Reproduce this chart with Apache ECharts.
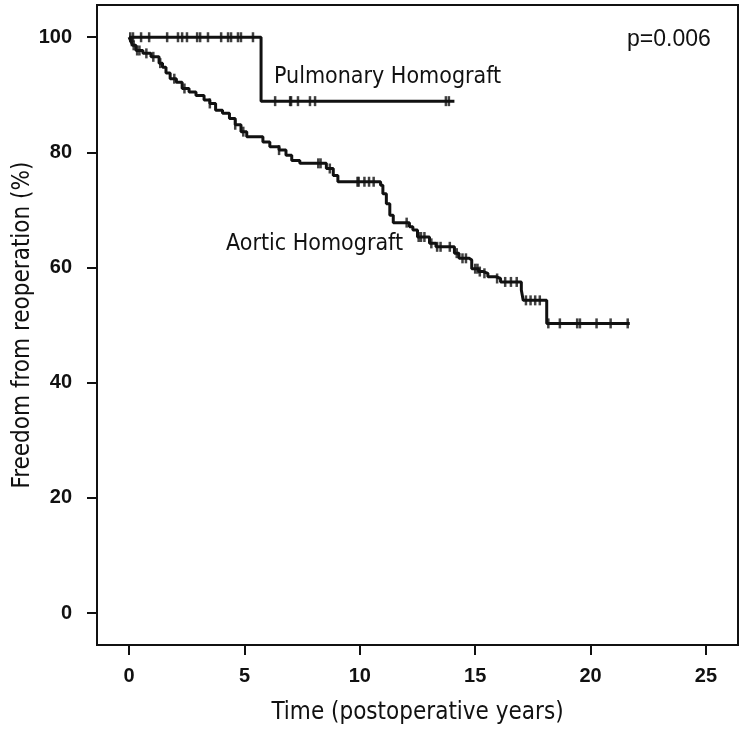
<!DOCTYPE html>
<html>
<head>
<meta charset="utf-8">
<script src="https://cdn.jsdelivr.net/npm/echarts@6/dist/echarts.min.js"></script>
<style>
  html, body { margin: 0; padding: 0; background: #fff; }
  #chart { width: 744px; height: 734px; }
</style>
</head>
<body>
<div id="chart"></div>
<script>
// Kaplan-Meier steps: time (years) and survival (%) after each drop
const aorticTimes = [0, 0.08, 0.15, 0.3, 0.6, 0.95, 1.3, 1.45, 1.6, 1.78, 2.05, 2.3, 2.6, 2.9, 3.25, 3.5, 3.75, 4.05, 4.35, 4.6, 4.85, 5.1, 5.8, 6.1, 6.5, 6.8, 7.05, 7.4, 8.55, 8.85, 9.05, 10.9, 11.0, 11.15, 11.3, 11.45, 12.15, 12.3, 12.5, 13.02, 13.3, 14.1, 14.3, 14.75, 14.85, 15.15, 15.35, 15.55, 15.9, 16.1, 17.0, 17.08, 18.1, 21.7]
const aorticSurv = [100, 99.3, 98.6, 97.7, 97.2, 96.6, 95.5, 94.8, 93.8, 92.8, 92.2, 91.1, 90.5, 89.9, 89.1, 88.5, 87.3, 86.8, 85.9, 84.8, 83.6, 82.7, 81.8, 81.0, 80.4, 79.5, 78.6, 78.1, 77.2, 76.0, 74.9, 74.3, 72.8, 71.1, 69.1, 67.8, 67.1, 66.5, 65.3, 64.2, 63.6, 62.5, 61.6, 61.3, 59.8, 59.3, 59.0, 58.4, 58.1, 57.5, 56.1, 54.3, 50.3, 50.3]
const aorticCensored = [0.05, 0.12, 0.2, 0.35, 0.45, 0.75, 1.05, 1.35, 1.96, 2.4, 3.5, 4.6, 4.95, 6.5, 8.2, 8.3, 8.7, 9.9, 9.95, 10.2, 10.4, 10.6, 12.03, 12.55, 12.65, 12.8, 13.1, 13.35, 13.5, 13.9, 14.2, 14.45, 14.6, 15.0, 15.1, 15.2, 15.4, 15.95, 16.3, 16.55, 16.8, 17.2, 17.4, 17.6, 17.8, 18.17, 18.67, 19.42, 19.54, 20.26, 20.87, 21.61]

const pulmTimes = [0, 5.72, 14.1]
const pulmSurv = [100, 88.9, 88.9]
const pulmCensored = [0.17, 0.52, 0.87, 1.65, 2.12, 2.3, 2.51, 2.95, 3.08, 3.42, 3.99, 4.29, 4.42, 4.72, 4.85, 5.37, 6.33, 6.98, 7.02, 7.32, 7.84, 8.06, 13.73, 13.86]

const xTicks = [0, 5, 10, 15, 20, 25]
const yTicks = [0, 20, 40, 60, 80, 100]

function survivalAt(times, surv, t) {
  let s = surv[0]
  for (let i = 0; i < times.length; i++) {
    if (times[i] <= t) s = surv[i]
  }
  return s
}

const zip = (a, b) => a.map((v, i) => [v, b[i]])
const censorPoints = (c, times, surv) => c.map(t => [t, survivalAt(times, surv, t)])

const chart = echarts.init(document.getElementById('chart'))
const ink = '#111'
const labelFont = '"Liberation Sans", Arial, sans-serif'
const nameFont = '"Liberation Sans Narrow", "DejaVu Sans Condensed", sans-serif'

chart.setOption({
  animation: false,
  backgroundColor: '#fff',
  grid: {
    left: 97, right: 6, top: 5, bottom: 89,
    containLabel: false,
    outerBoundsMode: 'none',
    show: true, borderColor: ink, borderWidth: 2, backgroundColor: 'transparent'
  },
  xAxis: {
    type: 'value',
    min: -1.39, max: 26.39,
    name: 'Time (postoperative years)',
    nameLocation: 'middle',
    nameGap: 56,
    nameMoveOverlap: false,
    nameTextStyle: { color: ink, fontSize: 24, fontFamily: nameFont },
    axisLine: { show: false, onZero: false },
    axisTick: { show: true, length: 10, lineStyle: { color: ink, width: 2 }, customValues: xTicks },
    axisLabel: { color: ink, fontSize: 20, fontWeight: 'bold', fontFamily: labelFont, margin: 21, customValues: xTicks },
    splitLine: { show: false }
  },
  yAxis: {
    type: 'value',
    min: -5.56, max: 105.6,
    name: 'Freedom from reoperation (%)',
    nameLocation: 'middle',
    nameGap: 62,
    nameMoveOverlap: false,
    nameTextStyle: { color: ink, fontSize: 24, fontFamily: nameFont },
    axisLine: { show: false, onZero: false },
    axisTick: { show: true, length: 10, lineStyle: { color: ink, width: 2 }, customValues: yTicks },
    axisLabel: { color: ink, fontSize: 20, fontWeight: 'bold', fontFamily: labelFont, margin: 25, customValues: yTicks },
    splitLine: { show: false }
  },
  graphic: [
    { type: 'text', left: 627, top: 28, style: { text: 'p=0.006', fontSize: 23, fontFamily: labelFont, fill: ink } },
    { type: 'text', left: 274, top: 66, style: { text: 'Pulmonary Homograft', fontSize: 23, fontFamily: nameFont, fill: ink } },
    { type: 'text', left: 226, top: 233, style: { text: 'Aortic Homograft', fontSize: 23, fontFamily: nameFont, fill: ink } }
  ],
  series: [
    {
      name: 'Aortic Homograft',
      type: 'line',
      step: 'end',
      showSymbol: false,
      data: zip(aorticTimes, aorticSurv),
      lineStyle: { color: ink, width: 3 }
    },
    {
      name: 'Pulmonary Homograft',
      type: 'line',
      step: 'end',
      showSymbol: false,
      data: zip(pulmTimes, pulmSurv),
      lineStyle: { color: ink, width: 3 }
    },
    {
      type: 'scatter',
      symbol: 'rect',
      symbolSize: [2.5, 10],
      itemStyle: { color: ink },
      data: censorPoints(aorticCensored, aorticTimes, aorticSurv)
    },
    {
      type: 'scatter',
      symbol: 'rect',
      symbolSize: [2.5, 10],
      itemStyle: { color: ink },
      data: censorPoints(pulmCensored, pulmTimes, pulmSurv)
    }
  ]
})
</script>
</body>
</html>
